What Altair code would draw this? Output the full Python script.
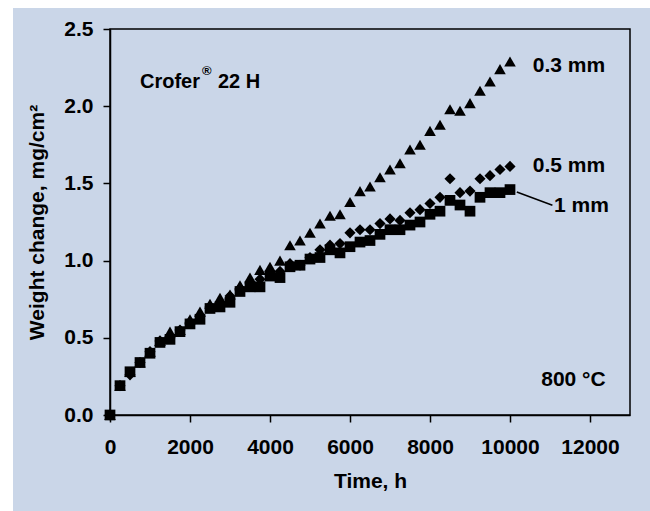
import altair as alt
import pandas as pd

# ---- data ----
times = [0, 250, 500, 750, 1000, 1250, 1500, 1750, 2000, 2250, 2500, 2750, 3000,
         3250, 3500, 3750, 4000, 4250, 4500, 4750, 5000, 5250, 5500, 5750, 6000,
         6250, 6500, 6750, 7000, 7250, 7500, 7750, 8000, 8250, 8500, 8750, 9000,
         9250, 9500, 9750, 10000]

w_03 = [0.0, 0.19, 0.28, 0.34, 0.41, 0.48, 0.54, 0.55, 0.62, 0.67, 0.72, 0.76, 0.78,
        0.84, 0.89, 0.94, 0.96, 1.00, 1.10, 1.13, 1.18, 1.24, 1.29, 1.30, 1.38,
        1.45, 1.48, 1.54, 1.59, 1.63, 1.72, 1.75, 1.84, 1.88, 1.98, 1.97, 2.02,
        2.10, 2.16, 2.24, 2.29]

w_05 = [0.0, 0.19, 0.26, 0.34, 0.41, 0.48, 0.50, 0.55, 0.60, 0.64, 0.70, 0.72, 0.77,
        0.82, 0.85, 0.88, 0.91, 0.93, 0.98, 0.97, 1.02, 1.07, 1.10, 1.11, 1.18,
        1.20, 1.20, 1.24, 1.27, 1.26, 1.31, 1.33, 1.37, 1.41, 1.53, 1.44, 1.45,
        1.53, 1.55, 1.59, 1.61]

w_1 = [0.0, 0.19, 0.28, 0.34, 0.40, 0.47, 0.49, 0.54, 0.59, 0.62, 0.69, 0.70, 0.73,
       0.80, 0.83, 0.83, 0.90, 0.89, 0.96, 0.97, 1.01, 1.02, 1.07, 1.05, 1.09,
       1.12, 1.13, 1.17, 1.20, 1.20, 1.23, 1.25, 1.30, 1.32, 1.39, 1.36, 1.32,
       1.41, 1.44, 1.44, 1.46]

series_names = ["0.3 mm", "0.5 mm", "1 mm"]
series_shapes = ["triangle-up", "diamond", "square"]
series_sizes = [135, 115, 125]

x_ticks = [0, 2000, 4000, 6000, 8000, 10000, 12000]
y_ticks = [0.0, 0.5, 1.0, 1.5, 2.0, 2.5]

# annotation labels (data coordinates)
lab_text = ["0.3 mm", "0.5 mm", "1 mm", "800 °C"]
lab_x = [10570, 10570, 11100, 10780]
lab_y = [2.258, 1.615, 1.354, 0.228]

title_parts = ["Crofer", "®", "22 H"]
title_x = [750, 2300, 2700]
title_y = [2.155, 2.225, 2.155]
title_sizes = [20, 13, 20]

leader_x = [10170]
leader_y = [1.444]
leader_x2 = [11060]
leader_y2 = [1.358]

BLUE = "#cad6e8"
FONT = "Liberation Sans"

rows = []
for name, vals in zip(series_names, [w_03, w_05, w_1]):
    for t, v in zip(times, vals):
        rows.append({"t": t, "w": v, "s": name})
df = pd.DataFrame(rows)

xscale = alt.Scale(domain=[0, 13000], nice=False, zero=False)
yscale = alt.Scale(domain=[0, 2.5], nice=False)

points = alt.Chart(df).mark_point(filled=True, opacity=1, color="black", strokeWidth=0).encode(
    x=alt.X("t:Q", scale=xscale,
            axis=alt.Axis(title="Time, h", values=x_ticks, format="d", labelFlush=False)),
    y=alt.Y("w:Q", scale=yscale,
            axis=alt.Axis(title="Weight change, mg/cm²", values=y_ticks, format=".1f", labelFlush=False)),
    shape=alt.Shape("s:N", scale=alt.Scale(domain=series_names, range=series_shapes), legend=None),
    size=alt.Size("s:N", scale=alt.Scale(domain=series_names, range=series_sizes), legend=None),
)

labels = alt.Chart(pd.DataFrame({"x": lab_x, "y": lab_y, "text": lab_text})).mark_text(
    align="left", baseline="middle", font=FONT, fontWeight="bold", fontSize=21, color="black"
).encode(x=alt.X("x:Q", scale=xscale), y=alt.Y("y:Q", scale=yscale), text="text:N")

ctitle = alt.Chart(pd.DataFrame({"x": title_x, "y": title_y, "text": title_parts, "fs": title_sizes})).mark_text(
    align="left", baseline="middle", font=FONT, fontWeight="bold", color="black"
).encode(x=alt.X("x:Q", scale=xscale), y=alt.Y("y:Q", scale=yscale), text="text:N",
         size=alt.Size("fs:Q", scale=None, legend=None))

leader = alt.Chart(pd.DataFrame({"x": leader_x, "y": leader_y, "x2": leader_x2, "y2": leader_y2})).mark_rule(
    color="black", strokeWidth=1.5
).encode(x=alt.X("x:Q", scale=xscale), y=alt.Y("y:Q", scale=yscale), x2="x2:Q", y2="y2:Q")

dummy = pd.DataFrame({"a": [0]})
strip_left = alt.Chart(dummy).mark_rect(color="white").encode(
    x=alt.value(-110), x2=alt.value(-97), y=alt.value(-29), y2=alt.value(482))
strip_top = alt.Chart(dummy).mark_rect(color="white").encode(
    x=alt.value(-110), x2=alt.value(540), y=alt.value(-29), y2=alt.value(-21))

chart = alt.layer(strip_left, strip_top, points, leader, labels, ctitle).properties(
    width=520, height=386,
    autosize=alt.AutoSizeParams(type="none"),
    padding={"left": 110, "top": 29, "right": 20, "bottom": 96},
).configure(background=BLUE).configure_view(
    stroke="black", strokeWidth=1.5
).configure_axis(
    grid=False, domainColor="black", domainWidth=1.5, tickColor="black", tickWidth=1.5,
    tickSize=7, labelFont=FONT, labelFontWeight="bold", labelFontSize=21, labelColor="black",
    titleFont=FONT, titleFontWeight="bold", titleFontSize=21, titleColor="black", zindex=1
).configure_axisX(labelPadding=14, titlePadding=13).configure_axisY(labelPadding=10, titlePadding=16)

chart.save("out.html", embed_options={"renderer": "svg", "actions": False})
